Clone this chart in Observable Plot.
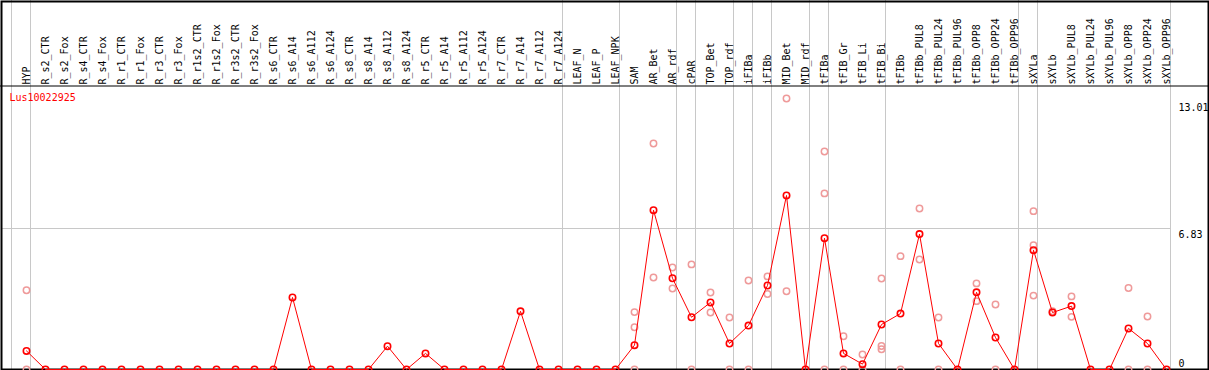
<!DOCTYPE html>
<html>
<head>
<meta charset="utf-8">
<script src="https://cdn.jsdelivr.net/npm/d3@7"></script>
<script src="https://cdn.jsdelivr.net/npm/@observablehq/plot@0.6"></script>
<style>
  html, body { margin: 0; padding: 0; background: #fff; }
  #chart { width: 1209px; height: 370px; }
</style>
</head>
<body>
<div id="chart"></div>
<script>
const categories = [
  "HYP","R_s2_CTR","R_s2_Fox","R_s4_CTR","R_s4_Fox","R_r1_CTR","R_r1_Fox","R_r3_CTR","R_r3_Fox",
  "R_r1s2_CTR","R_r1s2_Fox","R_r3s2_CTR","R_r3s2_Fox","R_s6_CTR","R_s6_A14","R_s6_A112","R_s6_A124",
  "R_s8_CTR","R_s8_A14","R_s8_A112","R_s8_A124","R_r5_CTR","R_r5_A14","R_r5_A112","R_r5_A124",
  "R_r7_CTR","R_r7_A14","R_r7_A112","R_r7_A124","LEAF_N","LEAF_P","LEAF_NPK","SAM","AR_Bet","AR_rdf",
  "cPAR","TOP_Bet","TOP_rdf","iFIBa","iFIBb","MID_Bet","MID_rdf","tFIBa","tFIB_Gr","tFIB_Li","tFIB_Bi",
  "tFIBb","tFIBb_PUL8","tFIBb_PUL24","tFIBb_PUL96","tFIBb_OPP8","tFIBb_OPP24","tFIBb_OPP96",
  "sXYLa","sXYLb","sXYLb_PUL8","sXYLb_PUL24","sXYLb_PUL96","sXYLb_OPP8","sXYLb_OPP24","sXYLb_OPP96"
];

const means = [
  0.90, 0,0,0,0,0,0,0,0,0,0,0,0,0, 3.49, 0,0,0,0, 1.13, 0, 0.78, 0,0,0,0, 2.82, 0,0, 0,0,0,
  1.18, 7.72, 4.42, 2.53, 3.25, 1.26, 2.13, 4.07, 8.43, 0, 6.36, 0.78, 0.26, 2.18,
  2.71, 6.56, 1.26, 0, 3.74, 1.55, 0,
  5.78, 2.76, 3.07, 0, 0, 1.99, 1.26, 0
];

const replicates = {
  "HYP": [3.84, 0],
  "SAM": [2.78, 2.05, 0],
  "AR_Bet": [10.95, 4.46],
  "AR_rdf": [4.94, 3.92],
  "cPAR": [5.09, 0],
  "TOP_Bet": [3.73, 2.76],
  "TOP_rdf": [2.52, 0],
  "iFIBa": [4.31, 0],
  "iFIBb": [4.51, 3.66],
  "MID_Bet": [13.13, 3.79],
  "tFIBa": [10.56, 8.53, 0],
  "tFIB_Gr": [1.61, 0],
  "tFIB_Li": [0.73, 0],
  "tFIB_Bi": [4.41, 1.14, 0.98],
  "tFIBb": [5.49, 0],
  "tFIBb_PUL8": [7.80, 5.33],
  "tFIBb_PUL24": [2.52, 0],
  "tFIBb_OPP8": [4.17, 3.31],
  "tFIBb_OPP24": [3.15, 0],
  "sXYLa": [7.67, 6.02, 3.58],
  "sXYLb": [2.82],
  "sXYLb_PUL8": [3.54, 2.55],
  "sXYLb_OPP8": [3.95, 0],
  "sXYLb_OPP24": [2.57, 0]
};

// group boundaries (vertical grey lines drawn just right of these categories)
const boundaryAfter = ["HYP","R_r7_A124","LEAF_NPK","AR_rdf","cPAR","TOP_rdf","iFIBa","iFIBb",
  "MID_rdf","tFIBa","tFIB_Bi","tFIBb_OPP96","sXYLa","sXYLb_OPP96"];
const boundaryBefore = ["HYP"];

const yTicks = [13.01, 6.83];
const yZero = [0];
const geneName = "Lus10022925";

const meanData = categories.map((c, i) => ({cat: c, v: means[i]}));
const repData = Object.entries(replicates).flatMap(([c, vals]) => vals.map(v => ({cat: c, v})));

const chart = Plot.plot({
  width: 1209,
  height: 370,
  marginTop: 85,
  marginBottom: 0,
  marginLeft: 0,
  marginRight: 0,
  style: {fontFamily: "'DejaVu Sans Mono', monospace", fontSize: "10px", background: "#fff"},
  x: {type: "point", domain: categories, range: [26, 1166], padding: 0, axis: null},
  y: {type: "linear", domain: [0, 6.83], range: [369, 228], axis: null},
  marks: [
    Plot.ruleX(boundaryAfter, {x: d => d, dx: 4, stroke: "#c8c8c8", strokeWidth: 1, insetTop: -85}),
    Plot.ruleX(boundaryBefore, {x: d => d, dx: -15, stroke: "#c8c8c8", strokeWidth: 1, insetTop: -85}),
    Plot.ruleY([6.83], {stroke: "#c8c8c8", strokeWidth: 1, insetLeft: 2, insetRight: 39}),
    Plot.frame({anchor: "top", stroke: "black", strokeWidth: 1, dy: 0.5}),
    Plot.frame({stroke: "black", strokeWidth: 2, inset: 1, insetTop: -84}),
    Plot.axisX({anchor: "top", tickRotate: -90, tickSize: 0, tickPadding: 1, label: null, fontSize: 10}),
    Plot.dot(repData, {x: "cat", y: "v", r: 3.2, stroke: "#ef9a9a", strokeWidth: 1.5, fill: "none"}),
    Plot.line(meanData, {x: "cat", y: "v", stroke: "red", strokeWidth: 1}),
    Plot.dot(meanData, {x: "cat", y: "v", r: 3.2, stroke: "red", strokeWidth: 1.6, fill: "none"}),
    Plot.text(yTicks, {y: d => d, text: d => d.toFixed(2), frameAnchor: "right", dx: -31,
      textAnchor: "start", lineAnchor: "top", dy: 2.5, fill: "black"}),
    Plot.text(yZero, {y: d => d, text: d => String(d), frameAnchor: "right", dx: -31,
      textAnchor: "start", lineAnchor: "bottom", dy: -3, fill: "black"}),
    Plot.text([geneName], {text: d => d, frameAnchor: "top-left", dx: 9, dy: 8,
      textAnchor: "start", lineAnchor: "top", fill: "red"})
  ]
});
document.getElementById("chart").appendChild(chart);
</script>
</body>
</html>
